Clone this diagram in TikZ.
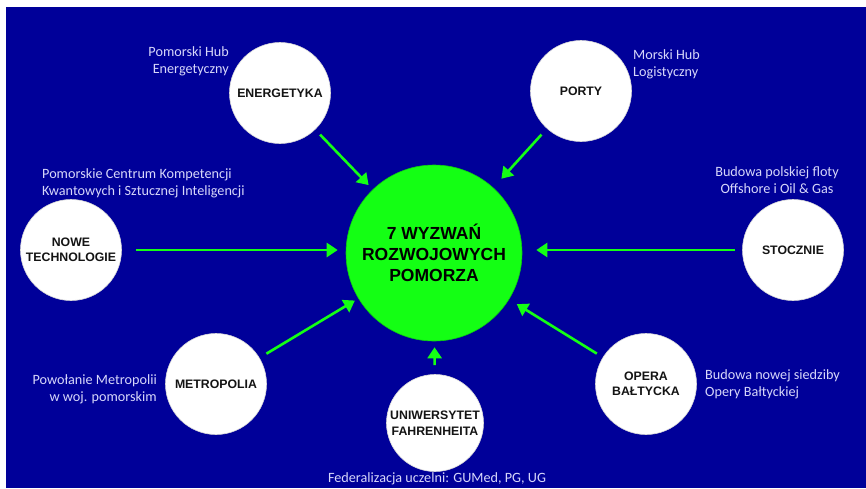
\documentclass[tikz,border=0pt]{standalone}
\usepackage{fontspec}
\setmainfont{Carlito}
\newfontfamily\arialfont{Liberation Sans}
\usetikzlibrary{arrows.meta}
\definecolor{bgblue}{RGB}{0,0,153}
\definecolor{lime}{RGB}{20,255,20}
\definecolor{labeltxt}{RGB}{215,215,250}
\definecolor{circtxt}{RGB}{20,20,20}
\tikzset{
  smallcirc/.style={circle, fill=white, draw=white!85!black, line width=0.6pt, minimum size=101pt, inner sep=0pt, align=center,
    text=circtxt, font=\arialfont\bfseries\fontsize{12.3}{15.5}\selectfont},
  bigcirc/.style={circle, fill=lime, draw=lime!80!black, line width=0.6pt, minimum size=176pt, inner sep=0pt, align=center,
    text=black, font=\arialfont\bfseries\fontsize{17.5}{21}\selectfont},
  lbl/.style={text=labeltxt, font=\fontsize{14.2}{16.8}\selectfont, inner sep=0pt},
  arr/.style={draw=lime, line width=2.6pt, -{Triangle[length=11pt,width=14pt]}}
}
\begin{document}
\begin{tikzpicture}[x=1pt,y=-1pt]
\useasboundingbox (0,0) rectangle (866,488);
\fill[white] (0,0) rectangle (866,488);
\fill[bgblue] (6,7) rectangle (866,488);

\node[bigcirc] (c) at (434,253) {7 WYZWAŃ\\ROZWOJOWYCH\\POMORZA};

\node[smallcirc] (ener) at (280,93) {ENERGETYKA};
\node[smallcirc] (port) at (581,91) {PORTY};
\node[smallcirc] (nowe) at (71,250) {NOWE\\TECHNOLOGIE};
\node[smallcirc] (stocz) at (793,250) {STOCZNIE};
\node[smallcirc] (metro) at (216,384) {METROPOLIA};
\node[smallcirc] (opera) at (646,384) {OPERA\\BAŁTYCKA};
\node[smallcirc, minimum size=97pt] (uni) at (435,423) {UNIWERSYTET\\FAHRENHEITA};

\node[lbl, align=right, anchor=east] (l1) at (229,61) {Pomorski Hub\\Energetyczny};
\node[lbl, align=left, anchor=west] (l2) at (633,64) {Morski Hub\\Logistyczny};
\node[lbl, align=left, anchor=west] (l3) at (42,183) {Pomorskie Centrum Kompetencji\\Kwantowych i Sztucznej Inteligencji};
\node[lbl, align=center] (l4) at (777,180) {Budowa polskiej floty\\Offshore i Oil \& Gas};
\node[lbl, align=right, anchor=east] (l5) at (157,389) {Powołanie Metropolii\\w woj. pomorskim};
\node[lbl, align=left, anchor=west] (l6) at (705,384) {Budowa nowej siedziby\\Opery Bałtyckiej};
\node[lbl] (l7) at (437,479) {Federalizacja uczelni: GUMed, PG, UG};

\draw[arr, shorten <=7pt, shorten >=6pt] (ener) -- (c);
\draw[arr, shorten <=8pt, shorten >=12pt] (port) -- (c);
\draw[arr, shorten <=14pt, shorten >=8pt] (nowe.east) -- (nowe.east -| c.west);
\draw[arr, shorten <=7pt, shorten >=14pt] (stocz.west) -- (stocz.west -| c.east);
\draw[arr, shorten <=8pt, shorten >=4pt] (metro) -- (c);
\draw[arr, shorten <=7pt, shorten >=9pt] (opera) -- (c);
\draw[arr, shorten <=9pt, shorten >=6pt] (uni) -- (c);
\end{tikzpicture}
\end{document}
